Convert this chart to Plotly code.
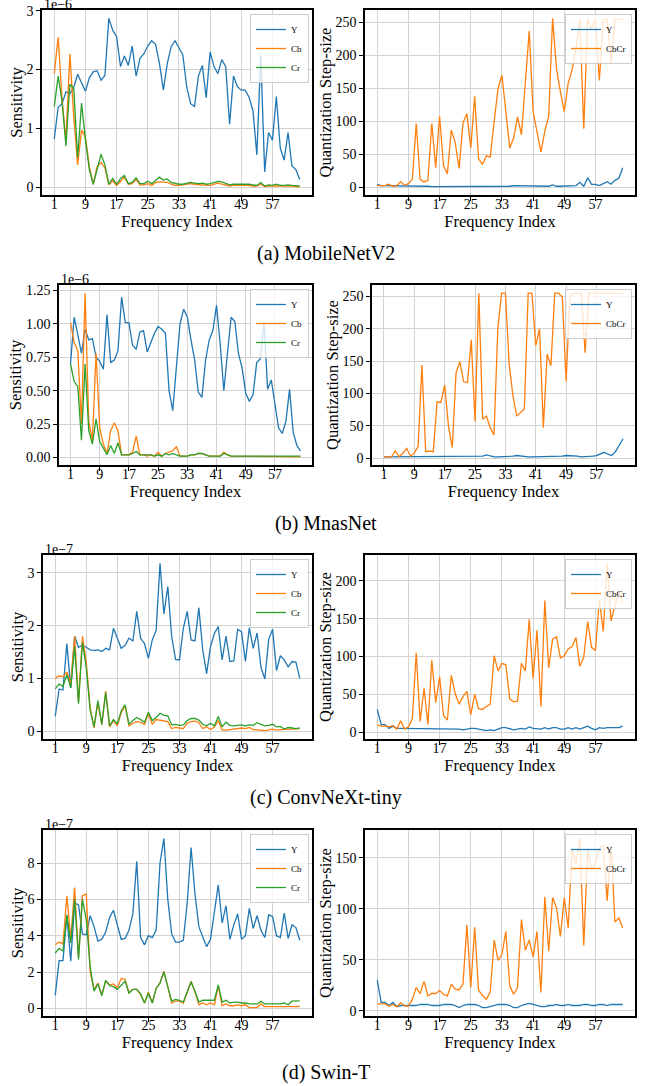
import plotly.graph_objects as go

W, H = 651, 1086
freq = list(range(1, 65))
xtick_vals = [1, 9, 17, 25, 33, 41, 49, 57]

# ---------------- (a) MobileNetV2 ----------------
a_sens_y = [0.82,1.36,1.42,1.62,1.59,1.70,1.92,1.76,1.63,1.86,
            1.96,1.98,1.82,1.90,2.87,2.67,2.56,2.05,2.23,2.07,
            2.40,1.89,2.19,2.27,2.40,2.49,2.43,2.10,1.65,2.10,
            2.39,2.49,2.36,2.25,1.70,1.42,1.37,1.89,2.07,1.52,
            2.30,2.05,1.93,2.17,2.05,1.07,1.89,1.71,1.65,1.65,
            1.53,1.30,0.55,2.25,0.26,0.93,0.80,1.54,0.67,0.46,
            0.93,0.36,0.30,0.13]
a_sens_cb = [1.93,2.55,1.50,0.80,2.27,1.20,0.38,0.97,0.85,0.35,
             0.05,0.35,0.42,0.33,0.04,0.11,0.03,0.10,0.17,0.05,
             0.06,0.13,0.04,0.04,0.06,0.03,0.08,0.09,0.09,0.08,
             0.05,0.03,0.03,0.04,0.05,0.06,0.05,0.04,0.04,0.03,
             0.03,0.05,0.07,0.05,0.04,0.02,0.03,0.03,0.04,0.03,
             0.03,0.02,0.02,0.05,0.01,0.02,0.02,0.03,0.02,0.02,
             0.02,0.02,0.01,0.01]
a_sens_cr = [1.37,1.89,1.45,0.70,1.75,1.68,0.50,1.43,0.80,0.30,
             0.05,0.30,0.56,0.38,0.05,0.15,0.05,0.15,0.20,0.06,
             0.08,0.16,0.06,0.06,0.10,0.06,0.12,0.17,0.12,0.14,
             0.08,0.06,0.05,0.05,0.06,0.08,0.07,0.06,0.07,0.05,
             0.06,0.08,0.10,0.09,0.07,0.04,0.05,0.05,0.06,0.05,
             0.05,0.04,0.03,0.08,0.02,0.04,0.03,0.05,0.03,0.03,
             0.04,0.03,0.02,0.02]
a_q_y = [5,3,3,3,3,2,2,2,2,2,
         2,2,2,2,1.5,1.5,1.5,1.5,1.5,1.5,
         2,2,1.5,1.5,1.5,1.5,1.5,1.5,2,2,
         1.5,1.5,1.5,1.5,2,3,3,2,2,3,
         2,2,2,2,2,4,2,2,2,2,
         2,3,8,2,15,5,5,3,6,9,
         5,11,14,30]
a_q_cbcr = [3.5,2.5,3.5,5,2,2.5,9,3.5,6,12.5,
            97,12.5,8.5,11,97,30,108,33,21,87,
            68,29,98,112,60,138,44,35,48,46,
            100,150,170,110,60,75,107,80,160,237,
            115,85,54,85,108,256,180,145,115,158,
            178,210,255,89,255,240,255,162,255,255,
            188,255,255,255]

# ---------------- (b) MnasNet ----------------
b_sens_y = [0.70,1.05,0.92,0.78,0.96,0.88,0.89,0.75,0.72,0.66,
            1.07,0.71,0.73,0.80,1.20,1.01,1.01,0.84,0.81,0.94,
            0.95,0.79,0.86,0.93,0.98,0.96,0.93,0.50,0.35,0.65,
            1.00,1.11,1.05,0.88,0.73,0.49,0.45,0.73,0.88,0.95,
            1.14,0.85,0.50,0.78,1.05,1.02,0.78,0.67,0.48,0.42,
            0.47,0.71,0.74,1.01,0.51,0.58,0.40,0.22,0.18,0.27,
            0.51,0.19,0.09,0.05]
b_sens_cb = [1.01,0.86,0.80,0.25,1.23,0.27,0.13,0.78,0.22,0.10,
             0.03,0.20,0.26,0.20,0.02,0.02,0.02,0.04,0.16,0.02,
             0.02,0.01,0.02,0.01,0.04,0.01,0.03,0.04,0.05,0.08,
             0.01,0.01,0.01,0.02,0.02,0.03,0.03,0.02,0.01,0.01,
             0.01,0.01,0.04,0.02,0.01,0.01,0.01,0.01,0.01,0.01,
             0.01,0.01,0.01,0.01,0.01,0.01,0.01,0.01,0.005,0.005,
             0.01,0.005,0.005,0.005]
b_sens_cr = [0.70,0.57,0.53,0.13,0.70,0.20,0.10,0.29,0.12,0.07,
             0.02,0.09,0.03,0.11,0.02,0.02,0.02,0.03,0.045,0.02,
             0.02,0.02,0.02,0.01,0.02,0.01,0.03,0.02,0.03,0.02,
             0.01,0.01,0.01,0.02,0.02,0.03,0.03,0.02,0.01,0.01,
             0.01,0.01,0.03,0.02,0.01,0.01,0.01,0.01,0.01,0.01,
             0.01,0.01,0.01,0.01,0.01,0.01,0.01,0.01,0.01,0.01,
             0.01,0.01,0.01,0.01]
b_q_y = [2,2,2,2,2,2,2,3,3,2,
         2,2,2,2,2,2,2,2,2,2,
         2,2,2,2,2,2,3,5,3,2,
         2,2,2,3,3,4,3,2,2,2,
         2,3,2,2,2,2,2,3,4,4,
         3,3,2,2,3,3,4,7,9,6,
         4,10,20,30]
b_q_cbcr = [2,2,2,11,2,8,15,3,8,18,
            144,10,11,10,87,86,113,49,16,132,
            149,118,117,183,57,255,60,65,47,36,
            200,255,255,145,96,65,70,76,255,255,
            174,200,47,161,143,255,255,249,119,249,
            255,255,255,163,255,255,255,255,255,255,
            255,255,255,255]

# ---------------- (c) ConvNeXt-tiny ----------------
c_sens_y = [0.28,0.80,0.78,1.66,0.82,1.80,1.59,1.63,1.59,1.54,
            1.53,1.54,1.51,1.57,1.54,1.95,1.76,1.57,1.63,1.76,
            1.71,2.27,1.76,1.66,1.38,1.73,1.91,3.18,2.22,2.74,
            1.79,1.36,1.35,1.95,2.27,1.73,1.71,2.34,1.54,1.09,
            1.60,1.85,1.98,1.35,1.80,1.32,1.33,1.93,1.88,1.32,
            1.96,1.57,1.86,1.21,0.99,1.74,1.93,1.15,1.43,1.35,
            1.22,1.32,1.31,1.00]
c_sens_cb = [1.00,1.05,1.03,1.12,0.90,1.80,0.55,1.80,1.30,0.45,
             0.06,0.55,0.12,0.76,0.08,0.20,0.10,0.35,0.48,0.10,
             0.15,0.18,0.17,0.13,0.33,0.13,0.22,0.21,0.20,0.18,
             0.05,0.07,0.06,0.05,0.15,0.18,0.19,0.16,0.05,0.08,
             0.03,0.08,0.20,0.02,0.02,0.03,0.03,0.04,0.06,0.05,
             0.07,0.03,0.03,0.02,0.01,0.03,0.04,0.02,0.03,0.03,
             0.04,0.04,0.04,0.05]
c_sens_cr = [0.80,0.89,0.85,1.07,0.82,1.60,0.52,1.68,1.20,0.40,
             0.08,0.58,0.13,0.73,0.10,0.22,0.14,0.38,0.50,0.13,
             0.20,0.26,0.22,0.17,0.36,0.20,0.26,0.34,0.30,0.29,
             0.12,0.13,0.11,0.12,0.20,0.24,0.24,0.21,0.13,0.10,
             0.15,0.10,0.28,0.08,0.17,0.11,0.10,0.11,0.12,0.10,
             0.12,0.11,0.16,0.13,0.10,0.11,0.13,0.08,0.09,0.04,
             0.07,0.06,0.05,0.06]
c_q_y = [30,10,10,5,8,5,5,5,5,5,
         5,5,5,5,5,4,4,5,5,4,
         4,4,3,4,5,5,4,3,2,3,
         2,4,6,6,4,3,4,5,4,7,
         5,4,4,6,4,6,6,4,4,6,
         4,6,4,6,8,5,3,6,5,6,
         6,6,6,8]
c_q_cbcr = [9.6,8,8,7,8.7,4,15,4,7,18,
            105,14,58,10,95,39,73,22,16,75,
            51,37,47,54,23,50,31,30,34,37,
            101,81,91,89,44,40,41,91,81,149,
            71,135,34,174,85,123,126,98,101,110,
            113,125,87,99,146,112,108,175,133,223,
            147,166,187,171]

# ---------------- (d) Swin-T ----------------
d_sens_y = [0.72,2.63,2.63,5.1,2.6,5.8,5.7,4.1,4.05,5.1,
            4.5,3.7,3.8,4.2,5.0,5.4,4.6,3.8,3.85,4.3,
            5.2,8.1,3.9,3.5,4.0,3.9,4.3,8.0,9.35,6.0,
            4.1,3.65,3.65,3.75,5.8,8.85,6.3,4.5,3.95,3.4,
            3.8,5.2,6.8,4.7,5.65,3.8,4.6,5.2,3.8,4.0,
            5.5,4.4,5.1,4.3,3.9,5.15,5.05,4.0,3.9,5.25,
            3.85,4.6,4.45,3.75]
d_sens_cb = [3.5,3.65,3.55,6.2,3.8,6.65,2.8,6.2,6.3,2.0,
             1.05,1.4,0.75,1.5,1.3,1.35,1.15,1.65,1.6,0.85,
             1.05,1.05,0.75,0.3,0.9,0.3,1.1,1.4,2.05,1.2,
             0.3,0.4,0.4,0.3,0.95,1.5,0.9,0.2,0.3,0.2,
             0.3,0.2,1.25,0.15,0.25,0.15,0.15,0.2,0.15,0.2,
             0.05,0.05,0.05,0.25,0.1,0.1,0.1,0.08,0.07,0.1,
             0.1,0.1,0.1,0.12]
d_sens_cr = [3.05,3.3,3.15,5.15,3.6,6.0,2.7,6.0,4.9,2.3,
             0.95,1.35,0.7,1.55,1.25,1.2,1.05,1.25,1.5,0.85,
             1.05,1.05,0.8,0.3,0.85,0.3,1.1,1.4,2.0,1.2,
             0.4,0.5,0.45,0.35,0.95,1.45,0.95,0.35,0.45,0.45,
             0.45,0.45,1.3,0.35,0.45,0.3,0.35,0.35,0.3,0.3,
             0.25,0.25,0.25,0.4,0.25,0.25,0.25,0.25,0.25,0.3,
             0.2,0.4,0.4,0.42]
d_q_y = [30,8,8,5,8,4,5,5,5,5,
         5,6,6,6,5,5,5,6,6,6,
         5,3,5,6,6,6,5,3,3,4,
         5,6,6,6,5,3,3,5,6,7,
         6,5,4,4,5,5,6,5,5,6,
         5,5,5,6,6,5,5,6,6,5,
         6,6,6,6]
d_q_cbcr = [6.7,6.7,6.7,4.3,6,3.7,7.7,4.3,4.3,11,
            22.7,16.7,28.7,14.3,17,16.7,19.7,16,14.3,26,
            21,20.3,26,84.3,22.7,81.7,20,15,11,18.3,
            69.3,49.3,55.3,77.7,24.3,16,22.7,89.3,59.3,69.3,
            52.7,77.7,17.7,111.7,58.3,111,101,72.7,111,81,
            159,144,169,64,158,138,145,160,162,108,
            163,87,91,81]

captions = ["(a) MobileNetV2", "(b) MnasNet", "(c) ConvNeXt-tiny", "(d) Swin-T"]
caption_y = [253, 523, 797, 1072]
exponents = ["1e\u22126", "1e\u22126", "1e\u22127", "1e\u22127"]

BLUE, ORANGE, GREEN = "#1f77b4", "#ff7f0e", "#2ca02c"
FONT = "Liberation Serif"

# panel boxes in pixels: (left, right, top, bottom)
panels = [
    dict(box=(42, 312, 10, 195), series=[("Y", a_sens_y, BLUE), ("Cb", a_sens_cb, ORANGE), ("Cr", a_sens_cr, GREEN)],
         dtick=1, fmt="d", title="Sensitivity", exp=exponents[0]),
    dict(box=(365, 635, 10, 195), series=[("Y", a_q_y, BLUE), ("CbCr", a_q_cbcr, ORANGE)],
         dtick=50, fmt="d", title="Quantization Step-size", exp=None),
    dict(box=(59, 312, 285, 465), series=[("Y", b_sens_y, BLUE), ("Cb", b_sens_cb, ORANGE), ("Cr", b_sens_cr, GREEN)],
         dtick=0.25, fmt=".2f", title="Sensitivity", exp=exponents[1]),
    dict(box=(372, 635, 285, 465), series=[("Y", b_q_y, BLUE), ("CbCr", b_q_cbcr, ORANGE)],
         dtick=50, fmt="d", title="Quantization Step-size", exp=None),
    dict(box=(43, 312, 555, 739), series=[("Y", c_sens_y, BLUE), ("Cb", c_sens_cb, ORANGE), ("Cr", c_sens_cr, GREEN)],
         dtick=1, fmt="d", title="Sensitivity", exp=exponents[2]),
    dict(box=(365, 635, 555, 739), series=[("Y", c_q_y, BLUE), ("CbCr", c_q_cbcr, ORANGE)],
         dtick=50, fmt="d", title="Quantization Step-size", exp=None),
    dict(box=(43, 312, 830, 1016), series=[("Y", d_sens_y, BLUE), ("Cb", d_sens_cb, ORANGE), ("Cr", d_sens_cr, GREEN)],
         dtick=2, fmt="d", title="Sensitivity", exp=exponents[3]),
    dict(box=(365, 635, 830, 1016), series=[("Y", d_q_y, BLUE), ("CbCr", d_q_cbcr, ORANGE)],
         dtick=50, fmt="d", title="Quantization Step-size", exp=None),
]

fig = go.Figure()
layout = dict(
    width=W, height=H, template="none",
    margin=dict(l=0, r=0, t=0, b=0),
    paper_bgcolor="white", plot_bgcolor="white",
    font=dict(family=FONT, color="black", size=14),
    annotations=[],
)

xpad = 0.05 * (freq[-1] - freq[0])
for k, p in enumerate(panels):
    idx = "" if k == 0 else str(k + 1)
    leg = "legend" if k == 0 else f"legend{k + 1}"
    L, R, T, B = p["box"]
    allv = [v for _, vals, _ in p["series"] for v in vals]
    lo, hi = min(allv), max(allv)
    ypad = 0.05 * (hi - lo)
    for name, vals, col in p["series"]:
        fig.add_trace(go.Scatter(
            x=freq, y=vals, mode="lines", name=name,
            line=dict(color=col, width=1.3),
            xaxis="x" + idx, yaxis="y" + idx, legend=leg,
        ))
    axis_common = dict(
        showline=True, mirror=True, linecolor="black", linewidth=1.5,
        ticks="outside", ticklen=4, tickwidth=1, tickcolor="black",
        showgrid=True, gridcolor="#d3d3d3", gridwidth=1, zeroline=False,
        tickfont=dict(family=FONT, size=14, color="black"),
    )
    layout["xaxis" + idx] = dict(
        axis_common,
        domain=[L / W, R / W], anchor="y" + idx,
        range=[freq[0] - xpad, freq[-1] + xpad],
        tickvals=xtick_vals, ticklabelstandoff=-9,
        title=dict(text="Frequency Index", font=dict(family=FONT, size=16.5), standoff=0),
    )
    layout["yaxis" + idx] = dict(
        axis_common,
        domain=[1 - B / H, 1 - T / H], anchor="x" + idx,
        range=[lo - ypad, hi + ypad],
        dtick=p["dtick"], tick0=0, tickformat=p["fmt"],
        title=dict(text=p["title"], font=dict(family=FONT, size=16.5), standoff=0),
    )
    layout[leg] = dict(
        x=(R - 3) / W, y=1 - (T + 4) / H, xanchor="right", yanchor="top",
        bgcolor="rgba(255,255,255,0.8)", bordercolor="#cccccc", borderwidth=1,
        font=dict(family=FONT, size=9, color="black"),
        itemwidth=30, tracegroupgap=0,
    )
    if p["exp"]:
        layout["annotations"].append(dict(
            text=p["exp"], xref="paper", yref="paper",
            x=L / W, y=1 - T / H, xanchor="left", yanchor="bottom",
            showarrow=False, font=dict(family=FONT, size=14), yshift=-4,
        ))

for cap, cy in zip(captions, caption_y):
    layout["annotations"].append(dict(
        text=cap, xref="paper", yref="paper", x=0.5, y=1 - cy / H,
        xanchor="center", yanchor="middle", showarrow=False,
        font=dict(family=FONT, size=20, color="black"),
    ))

fig.update_layout(**layout)
fig.write_html(
    "out.html",
    config={"displayModeBar": False},
    post_script="document.body.style.margin='0px';document.body.style.padding='0px';",
)
